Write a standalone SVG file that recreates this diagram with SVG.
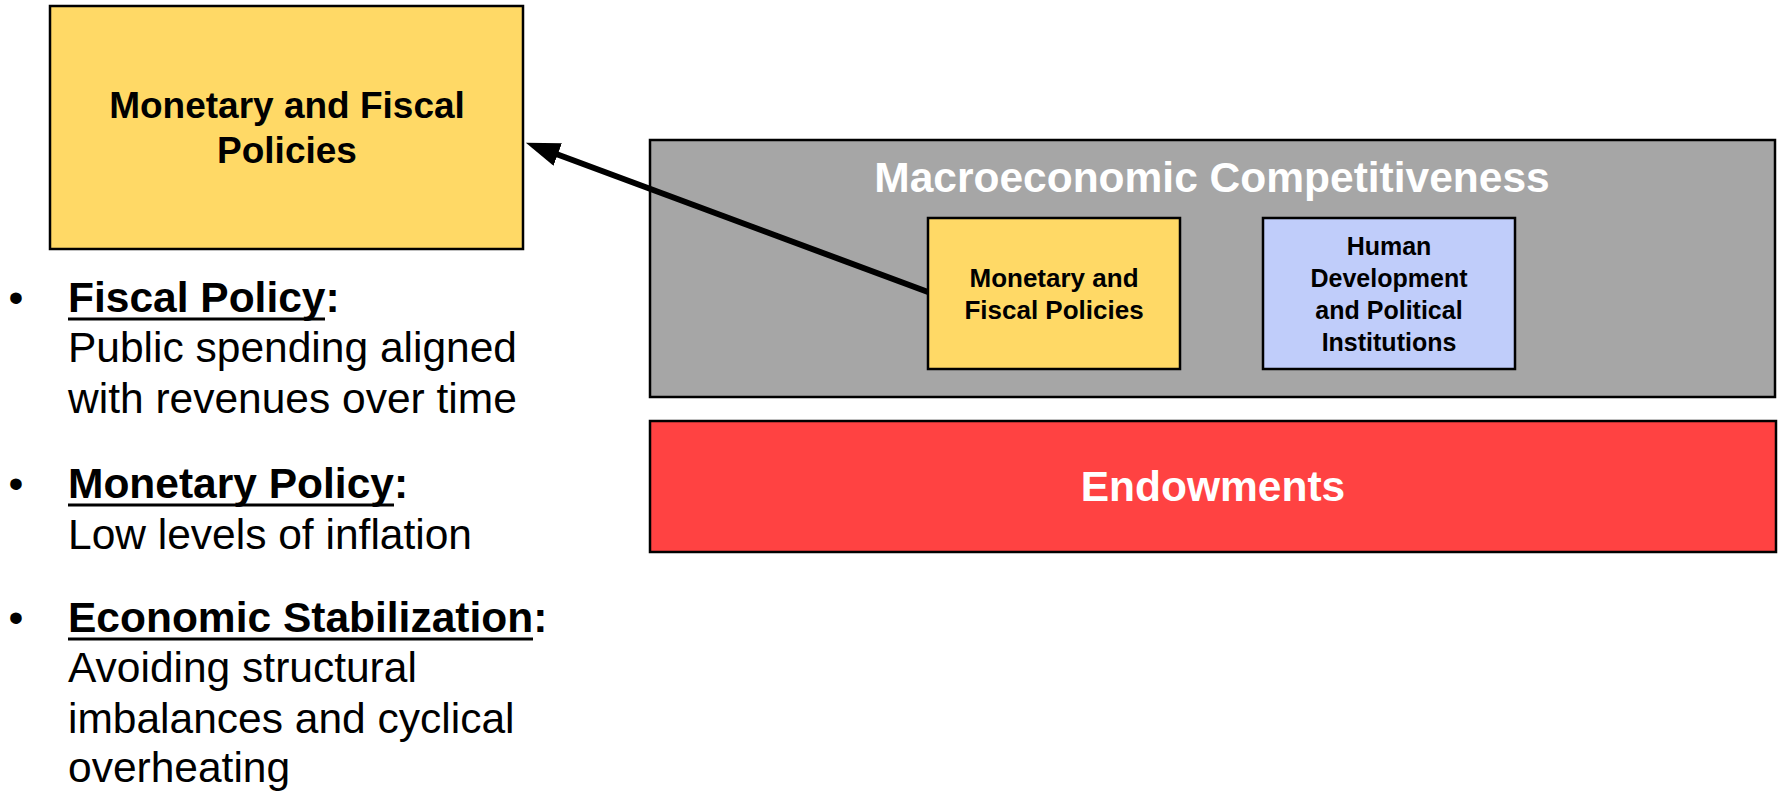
<svg xmlns="http://www.w3.org/2000/svg" width="1782" height="793" viewBox="0 0 1782 793">
<defs>
<style>
.box{stroke:#000;stroke-width:2.5}
.yel{fill:#FFD966}
.gray{fill:#A6A6A6}
.blue{fill:#C0CDFA}
.red{fill:#FF4242}
.b{font-family:"Liberation Sans",Arial,Helvetica,sans-serif;font-weight:bold;text-anchor:middle}
.lst{font-family:"Liberation Sans",Arial,Helvetica,sans-serif;font-size:42.5px;fill:#000}
.hd{font-weight:bold}
.ul{stroke:#000;stroke-width:3}
.conn{stroke:#000;stroke-width:6;fill:none}
</style>
<marker id="ah" markerUnits="userSpaceOnUse" markerWidth="36" markerHeight="26" refX="8" refY="12" orient="auto">
<path d="M0,0 L34,12 L0,24 Z" fill="#000"/>
</marker>
</defs>
<rect width="1782" height="793" fill="#fff"/>

<g id="node-policies-detail">
<rect class="box yel" x="50" y="6" width="473" height="243"/>
<text class="b" font-size="37" x="287" y="118">Monetary and Fiscal</text>
<text class="b" font-size="37" x="287" y="163">Policies</text>
</g>

<g id="node-macro">
<rect class="box gray" x="650" y="140" width="1125" height="257"/>
<text class="b" font-size="42.5" fill="#fff" x="1212" y="192">Macroeconomic Competitiveness</text>
</g>

<g id="node-policies">
<rect class="box yel" x="928" y="218" width="252" height="151"/>
<text class="b" font-size="26" x="1054" y="287">Monetary and</text>
<text class="b" font-size="26" x="1054" y="319">Fiscal Policies</text>
</g>

<g id="node-human">
<rect class="box blue" x="1263" y="218" width="252" height="151"/>
<text class="b" font-size="25" x="1389" y="255">Human</text>
<text class="b" font-size="25" x="1389" y="287">Development</text>
<text class="b" font-size="25" x="1389" y="319">and Political</text>
<text class="b" font-size="25" x="1389" y="351">Institutions</text>
</g>

<g id="node-endowments">
<rect class="box red" x="650" y="421" width="1126" height="131"/>
<text class="b" font-size="42.5" fill="#fff" x="1213" y="501">Endowments</text>
</g>

<g id="connectors">
<line class="conn" x1="928" y1="292" x2="550.2" y2="151.7" marker-end="url(#ah)"/>
</g>

<g id="bullets" class="lst">
<text x="16" y="312" text-anchor="middle">•</text>
<text x="68" y="312"><tspan class="hd">Fiscal Policy</tspan><tspan class="hd">:</tspan></text>
<line class="ul" x1="68" y1="319" x2="325" y2="319"/>
<text x="68" y="362">Public spending aligned</text>
<text x="68" y="413">with revenues over time</text>

<text x="16" y="498" text-anchor="middle">•</text>
<text x="68" y="498"><tspan class="hd">Monetary Policy</tspan><tspan class="hd">:</tspan></text>
<line class="ul" x1="68" y1="505" x2="394" y2="505"/>
<text x="68" y="549">Low levels of inflation</text>

<text x="16" y="632" text-anchor="middle">•</text>
<text x="68" y="632"><tspan class="hd">Economic Stabilization</tspan><tspan class="hd">:</tspan></text>
<line class="ul" x1="68" y1="639" x2="533" y2="639"/>
<text x="68" y="682">Avoiding structural</text>
<text x="68" y="733">imbalances and cyclical</text>
<text x="68" y="782">overheating</text>
</g>
</svg>
